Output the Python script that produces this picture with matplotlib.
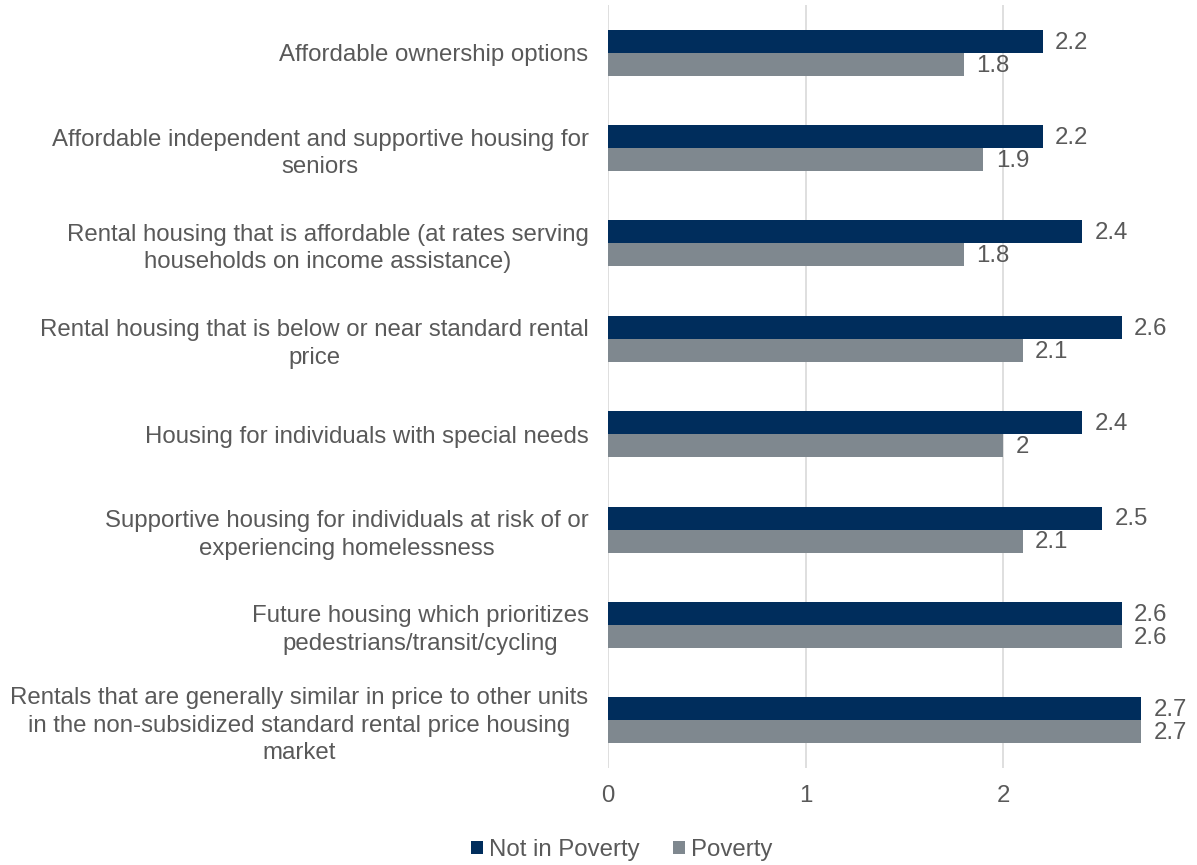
import matplotlib
matplotlib.use("Agg")
import matplotlib.pyplot as plt
import numpy as np

categories = [
    "Affordable ownership options",
    "Affordable independent and supportive housing for\nseniors",
    "Rental housing that is affordable (at rates serving\nhouseholds on income assistance)",
    "Rental housing that is below or near standard rental\nprice",
    "Housing for individuals with special needs",
    "Supportive housing for individuals at risk of or\nexperiencing homelessness",
    "Future housing which prioritizes\npedestrians/transit/cycling",
    "Rentals that are generally similar in price to other units\nin the non-subsidized standard rental price housing\nmarket",
]
not_in_poverty = [2.2, 2.2, 2.4, 2.6, 2.4, 2.5, 2.6, 2.7]
poverty = [1.8, 1.9, 1.8, 2.1, 2.0, 2.1, 2.6, 2.7]
series_names = ["Not in Poverty", "Poverty"]
xticks = [0, 1, 2]

plt.rcParams["font.family"] = ["Liberation Sans", "DejaVu Sans"]
TXT = "#595959"
NAVY = "#002D5C"
GRAY = "#7F888F"
FS = 17.3

W, H = 1197, 865
fig = plt.figure(figsize=(W / 100, H / 100), dpi=100)
ax_top, ax_bot = 5, 768
ax = fig.add_axes([608 / W, 1 - ax_bot / H, (W - 608) / W, (ax_bot - ax_top) / H])

y = np.arange(len(categories))
bh = 0.241
b1 = ax.barh(y - bh / 2, not_in_poverty, height=bh, color=NAVY, label=series_names[0], zorder=3)
b2 = ax.barh(y + bh / 2, poverty, height=bh, color=GRAY, label=series_names[1], zorder=3)

for bars, vals in ((b1, not_in_poverty), (b2, poverty)):
    for rect, v in zip(bars, vals):
        ax.annotate(f"{v:g}", (v, rect.get_y() + rect.get_height() / 2),
                    xytext=(9, -1), textcoords="offset points",
                    va="center", ha="left", fontsize=FS, color=TXT)

ax.set_ylim(len(categories) - 0.5, -0.5)
ax.set_xlim(0, (W - 608) / 197.5)
ax.set_yticks(y)
ax.set_yticklabels(categories, fontsize=FS, color=TXT, multialignment="center",
                   linespacing=1.32)
ax.set_xticks(xticks)
ax.set_xticklabels([str(t) for t in xticks], fontsize=FS, color=TXT)
ax.tick_params(axis="both", length=0)
ax.tick_params(axis="y", pad=14)
ax.tick_params(axis="x", pad=12)
ax.grid(axis="x", color="#D9D9D9", linewidth=1.2, zorder=0)
for s in ax.spines.values():
    s.set_visible(False)

leg = fig.legend(handles=[b1, b2], labels=series_names, loc="center",
                 bbox_to_anchor=(622 / W, 1 - 850 / H), ncol=2, frameon=False,
                 fontsize=FS, handlelength=0.5, handleheight=0.5,
                 handletextpad=0.25, columnspacing=1.4, labelcolor=TXT)

fig.savefig("out.png", dpi=100)
